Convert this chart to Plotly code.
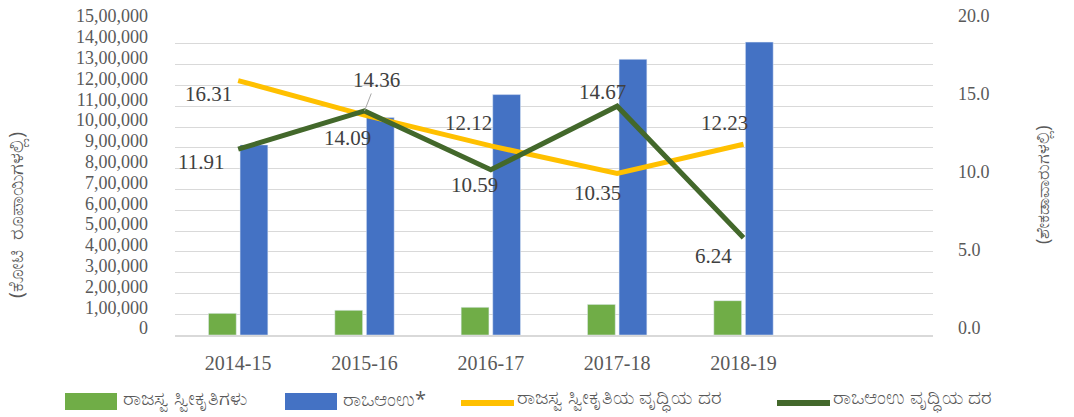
import plotly.graph_objs as go

#### datos ####
anios = ['2014-15', '2015-16', '2016-17', '2017-18', '2018-19']
ingresos = [104142, 118817, 133214, 146999, 164979]          # ರಾಜಸ್ವ ಸ್ವೀಕೃತಿಗಳು
gsdp = [913923, 1045168, 1155851, 1325414, 1408120]          # ರಾಒಆಂಉ*
crec_ingresos = [16.31, 14.09, 12.12, 10.35, 12.23]
crec_gsdp = [11.91, 14.36, 10.59, 14.67, 6.24]

ticks_izq = list(range(0, 1500001, 100000))
ticktext_izq = ['0', '1,00,000', '2,00,000', '3,00,000', '4,00,000', '5,00,000', '6,00,000',
                '7,00,000', '8,00,000', '9,00,000', '10,00,000', '11,00,000', '12,00,000',
                '13,00,000', '14,00,000', '15,00,000']
ticks_der = [0, 5, 10, 15, 20]
ticktext_der = ['0.0', '5.0', '10.0', '15.0', '20.0']

nombres = ['ರಾಜಸ್ವ ಸ್ವೀಕೃತಿಗಳು', 'ರಾಒಆಂಉ*', 'ರಾಜಸ್ವ ಸ್ವೀಕೃತಿಯ ವೃದ್ಧಿಯ ದರ', 'ರಾಒಆಂಉ ವೃದ್ಧಿಯ ದರ']
colores = ['#70AD47', '#4472C4', '#FFC000', '#43682B']

### desplazamiento de etiquetas (px)
off_ing = [(-30, -13), (-17, -23), (-22, 23), (-20, -19), (-19, 21)]
off_gsdp = [(-37, -13), (12, 31), (-16, -15), (-15, 14), (-30, -18)]
### leyenda manual: x inicial del símbolo (px)
ley_x = [65, 285, 459, 775]

x = list(range(len(anios)))
serif = 'Liberation Serif, Times New Roman, serif'
gris = '#595959'

W, H = 1074, 417
ml, mr, mt, mb = 175, 141, 23, 82
pw, ph = W - ml - mr, H - mt - mb
px_x = lambda v: (v - ml) / pw          # px -> paper
px_y = lambda v: (H - mb - v) / ph

fig = go.Figure()
fig.add_trace(go.Bar(x=x, y=ingresos, name=nombres[0], marker_color=colores[0]))
fig.add_trace(go.Bar(x=x, y=gsdp, name=nombres[1], marker_color=colores[1]))
fig.add_trace(go.Scatter(x=x, y=crec_ingresos, name=nombres[2], mode='lines', yaxis='y2',
                         line=dict(color=colores[2], width=5)))
fig.add_trace(go.Scatter(x=x, y=crec_gsdp, name=nombres[3], mode='lines', yaxis='y2',
                         line=dict(color=colores[3], width=5)))

anots = []
for i in x:
    anots.append(dict(x=i, y=crec_ingresos[i], xref='x', yref='y2', text=f'{crec_ingresos[i]:.2f}',
                      showarrow=False, xshift=off_ing[i][0], yshift=off_ing[i][1],
                      font=dict(family=serif, size=21, color='#404040')))
    if i == 1:
        anots.append(dict(x=i, y=crec_gsdp[i], xref='x', yref='y2', text=f'{crec_gsdp[i]:.2f}',
                          showarrow=True, arrowhead=0, arrowwidth=1, arrowcolor='#A6A6A6',
                          ax=off_gsdp[i][0], ay=-off_gsdp[i][1],
                          font=dict(family=serif, size=21, color='#404040')))
    else:
        anots.append(dict(x=i, y=crec_gsdp[i], xref='x', yref='y2', text=f'{crec_gsdp[i]:.2f}',
                          showarrow=False, xshift=off_gsdp[i][0], yshift=off_gsdp[i][1],
                          font=dict(family=serif, size=21, color='#404040')))

### titulos de ejes
anots.append(dict(x=px_x(15), y=px_y(215), xref='paper', yref='paper',
                  text='(ಕೋಟಿ\u00a0\u00a0ರೂಪಾಯಿಗಳಲ್ಲಿ)', xanchor='center', yanchor='middle',
                  showarrow=False, textangle=-90, font=dict(size=20, color=gris)))
anots.append(dict(x=px_x(1042), y=px_y(185), xref='paper', yref='paper', text='(ಶೇಕಡಾವಾರುಗಳಲ್ಲಿ)',
                  xanchor='center', yanchor='middle',
                  showarrow=False, textangle=-90, font=dict(size=18, color=gris)))

### leyenda manual
shapes = []
for k in range(4):
    x0 = ley_x[k]
    if k < 2:
        shapes.append(dict(type='rect', xref='paper', yref='paper', x0=px_x(x0), x1=px_x(x0 + 52),
                           y0=px_y(410), y1=px_y(393), fillcolor=colores[k], line_width=0))
    else:
        shapes.append(dict(type='line', xref='paper', yref='paper', x0=px_x(x0 + 2), x1=px_x(x0 + 55),
                           y0=px_y(403), y1=px_y(403), line=dict(color=colores[k], width=6)))
    anots.append(dict(x=px_x(x0 + 56), y=px_y(398), xref='paper', yref='paper', text=nombres[k],
                      xanchor='left', yanchor='middle', showarrow=False,
                      font=dict(size=20, color=gris)))

fig.update_layout(
    width=W, height=H,
    margin=dict(l=ml, r=mr, t=mt, b=mb, autoexpand=False),
    plot_bgcolor='white', paper_bgcolor='white',
    showlegend=False,
    barmode='group', bargap=0.5, bargroupgap=0.12,
    xaxis=dict(range=[-0.5, 5.5], tickvals=x, ticktext=anios, showgrid=False, zeroline=False,
               showline=True, linecolor='#D9D9D9', linewidth=1.5,
               tickfont=dict(family=serif, size=20, color=gris), ticklabelstandoff=9),
    yaxis=dict(range=[0, 1500000], tickvals=ticks_izq, ticktext=ticktext_izq, showgrid=True,
               gridcolor='#D9D9D9', gridwidth=1.3, zeroline=False,
               tickfont=dict(family=serif, size=18, color=gris), ticklabelstandoff=26,
               ticklabelshift=-7),
    yaxis2=dict(range=[0, 20], tickvals=ticks_der, ticktext=ticktext_der, overlaying='y',
                side='right', showgrid=False, zeroline=False,
                tickfont=dict(family=serif, size=18, color=gris), ticklabelstandoff=24,
                ticklabelshift=-7),
    annotations=anots,
    shapes=shapes,
)

fig.write_html('out.html', config={'displayModeBar': False},
               post_script="document.body.style.margin='0';")
